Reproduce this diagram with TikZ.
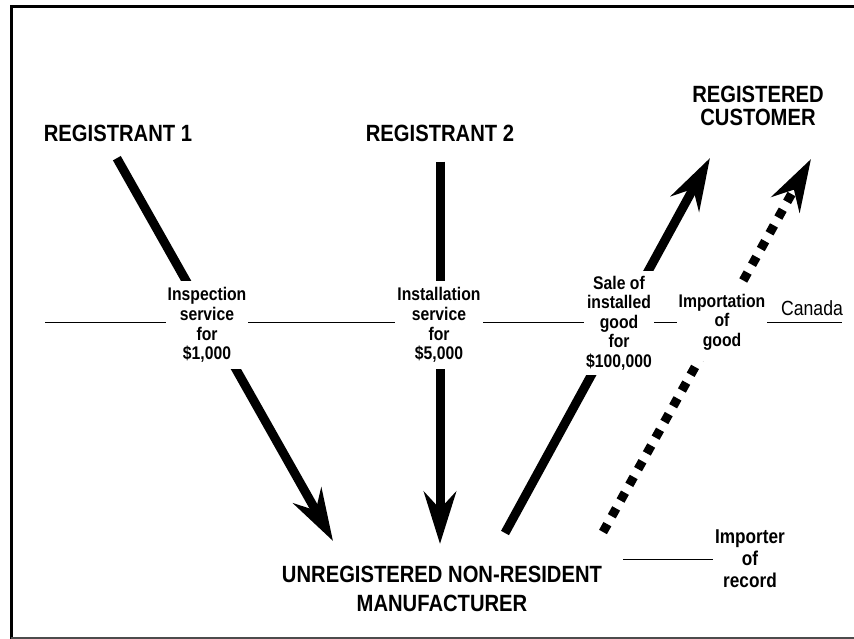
\documentclass[tikz,border=0pt]{standalone}
\usepackage{fontspec}
\setmainfont{Liberation Sans}
\newfontfamily\narrowsans[FakeStretch=0.86]{Liberation Sans}
\usetikzlibrary{arrows.meta}

\begin{document}
\begin{tikzpicture}[
  x=1pt, y=-1pt,
  party/.style={font=\fontsize{23.5}{23}\narrowsans\bfseries, align=center, inner sep=1pt},
  deal/.style={font=\fontsize{18.3}{19.6}\narrowsans\bfseries, align=center, fill=white, inner xsep=2pt},
  note/.style={font=\fontsize{20}{22}\narrowsans\bfseries, align=center, inner sep=2pt},
  flow/.style={line width=9pt},
  flowtip/.style={flow, -{Stealth[length=52pt, width=32pt, inset=17pt]}},
  importtip/.style={flowtip, dash pattern=on 9pt off 9pt},
  border/.style={line width=1pt}
]

\useasboundingbox (0,0) rectangle (854,639);
\draw[line width=3pt] (11,639) -- (11,7) -- (854,7);
\draw[black!70, line width=1.5pt] (11,638) -- (854,638);

% border line with Canada above it
\coordinate (bl) at (45,322);
\coordinate (br) at (842,322);
\draw[border] (bl) -- (br);
\node[font=\fontsize{20.5}{22}\narrowsans, inner sep=1pt] (can) at (812,308) {Canada};

% parties
\node[party] (r1) at (118,133) {REGISTRANT 1};
\node[party] (r2) at (440,133) {REGISTRANT 2};
\node[party] (cust) at (758,106) {REGISTERED\\CUSTOMER};
\node[party, font=\fontsize{23.5}{29}\narrowsans\bfseries] (mfr) at (442,589) {UNREGISTERED NON-RESIDENT\\MANUFACTURER};
\node[note] (imp) at (750,559) {Importer\\of\\record};

% free ends of the arrows
\coordinate (tip1) at (333,541);
\coordinate (tip2) at (440,544);
\coordinate (foot3) at (505,533);
\coordinate (foot4) at (603,532);
\coordinate (tip3) at (710,158);
\coordinate (tip4) at (811,159);

\draw[flowtip, shorten <=18pt] ([xshift=-10pt]r1.south) -- (tip1);
\draw[flowtip, shorten <=19pt] (r2.south) -- (tip2);
\draw[flowtip] (foot3) -- (tip3);
\draw[importtip] (foot4) -- (tip4);

% what is paid for, set on the arrows
\node[deal, inner ysep=7pt] (l1) at (207,325) {Inspection\\service\\for\\\$1,000};
\node[deal, inner ysep=7pt] (l2) at (439,325) {Installation\\service\\for\\\$5,000};
\node[deal, inner ysep=5pt] (l3) at (619,323) {Sale of\\installed\\good\\for\\\$100,000};
\node[deal, inner ysep=11pt] (l4) at (722,322) {Importation\\of\\good};

\draw[border, shorten <=20pt] (mfr.east |- imp.west) -- (imp.west);

\end{tikzpicture}
\end{document}
